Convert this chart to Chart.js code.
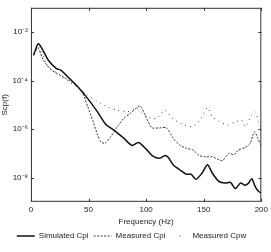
<!DOCTYPE html>
<html lang="en">
<head>
  <meta charset="UTF-8">
  <title>Scp(f)</title>
  <script src="https://cdn.jsdelivr.net/npm/chart.js"></script>
  <style>
    html, body { margin: 0; padding: 0; background: #fff; }
    #wrap { width: 271px; height: 252px; }
  </style>
</head>
<body>
  <div id="wrap"><canvas id="psdChart"></canvas></div>
  <script>
    // Frequências (Hz) e valores
    const simFreq = [2.3, 6.6, 15.1, 22.2, 25.9, 32.2, 40.7, 49.3, 57.8, 65, 72.1, 80.6, 87.8, 93.5, 100.6, 106.3, 112, 116.2, 119.1, 123.4, 129.1, 134.8, 139, 143.3, 148.4, 153.3, 157.5, 163.2, 168.9, 173.2, 177.5, 181.8, 186, 188.9, 191.7, 194.6, 197.4, 200];
    const simCpi = [1.1e-3, 3.3e-3, 6.9e-4, 3.1e-4, 2.7e-4, 1.4e-4, 5.5e-5, 1.8e-5, 5.1e-6, 1.55e-6, 9.1e-7, 4.2e-7, 2.1e-7, 2.8e-7, 1.38e-7, 7.4e-8, 6.3e-8, 8.1e-8, 6.8e-8, 3.4e-8, 2.1e-8, 1.38e-8, 1.38e-8, 8.5e-9, 1.5e-8, 3.4e-8, 1.5e-8, 6.9e-9, 5.9e-9, 6.3e-9, 3.5e-9, 5.9e-9, 4.8e-9, 5.9e-9, 8.9e-9, 4.3e-9, 2.7e-9, 2.3e-9];

    const cpiFreq = [2.3, 6.1, 10.8, 17.9, 26.5, 35, 40.7, 45, 49.3, 53.6, 57.8, 60.7, 64.4, 69.3, 75, 80.6, 86.3, 92, 94.9, 99.1, 104.8, 112, 117.7, 123.4, 129.1, 134.8, 140.5, 146.2, 151.9, 157.5, 163.2, 166.6, 171.8, 176.1, 180.3, 186, 190.3, 194, 196.9, 200];
    const measCpi = [1.29e-3, 2.2e-3, 6.9e-4, 2.7e-4, 1.55e-4, 8.9e-5, 5.5e-5, 3.0e-5, 8.3e-6, 2.3e-6, 5.8e-7, 3.0e-7, 2.6e-7, 4.9e-7, 1.26e-6, 2.75e-6, 4.5e-6, 7.8e-6, 8.9e-6, 3.8e-6, 1.15e-6, 1.12e-6, 1.12e-6, 4.2e-7, 2.2e-7, 1.62e-7, 1.38e-7, 8.1e-8, 7.1e-8, 7.2e-8, 5.4e-8, 5.1e-8, 1.0e-7, 8.7e-8, 1.38e-7, 1.74e-7, 2.6e-7, 7.8e-7, 4.2e-7, 1.9e-7];

    const cpwFreq = [2.3, 6.6, 15.1, 23.6, 32.2, 40.7, 49.3, 57.8, 66.4, 74.9, 83.5, 92, 100.6, 109.1, 116.2, 123.4, 131.9, 140.5, 147.6, 153.3, 157.5, 163.2, 170.4, 177.5, 183.2, 186, 191.7, 194.6, 197.4, 200];
    const measCpw = [1.1e-3, 2.4e-3, 3.6e-4, 1.95e-4, 9.3e-5, 5.1e-5, 2.5e-5, 1.35e-5, 8.3e-6, 6.0e-6, 5.1e-6, 7.1e-6, 3.2e-6, 2.75e-6, 6.0e-6, 2.6e-6, 1.55e-6, 1.26e-6, 2.75e-6, 7.6e-6, 3.2e-6, 2.1e-6, 1.48e-6, 1.95e-6, 2.3e-6, 1.26e-6, 3.8e-6, 5.1e-6, 2.1e-6, 1.12e-6];

    const yTicks = [1e-8, 1e-6, 1e-4, 1e-2];
    const yTickLabels = ['10⁻⁸', '10⁻⁶', '10⁻⁴', '10⁻²'];
    const xTicks = [0, 50, 100, 150, 200];

    // traço usado na legenda (a última série aparece como um único ponto)
    const legendDash = [[], [2, 1.5], [1, 40]];
    const legendDashOffset = [0, 0, -9];

    const pontos = (xs, ys) => xs.map((x, i) => ({ x: x, y: ys[i] }));

    // Caixa com marcas internas, estilo MATLAB
    const caixaPlugin = {
      id: 'caixa',
      afterDraw(chart) {
        const { ctx, chartArea: a, scales } = chart;
        ctx.save();
        ctx.strokeStyle = '#333';
        ctx.lineWidth = 1;
        ctx.strokeRect(a.left + 0.5, a.top + 0.5, a.right - a.left - 1, a.bottom - a.top - 1);
        ctx.beginPath();
        xTicks.forEach(v => {
          const px = Math.round(scales.x.getPixelForValue(v)) + 0.5;
          ctx.moveTo(px, a.bottom); ctx.lineTo(px, a.bottom - 3);
          ctx.moveTo(px, a.top); ctx.lineTo(px, a.top + 3);
        });
        yTicks.forEach(v => {
          const py = Math.round(scales.y.getPixelForValue(v)) + 0.5;
          ctx.moveTo(a.left, py); ctx.lineTo(a.left + 3, py);
          ctx.moveTo(a.right, py); ctx.lineTo(a.right - 3, py);
        });
        ctx.stroke();
        ctx.restore();
      }
    };

    const fonte = { family: "'Liberation Sans', Arial, sans-serif", size: 8 };

    new Chart(document.getElementById('psdChart'), {
      type: 'line',
      data: {
        datasets: [
          {
            label: 'Simulated Cpi',
            data: pontos(simFreq, simCpi),
            borderColor: '#111',
            borderWidth: 1.5,
            pointRadius: 0,
            tension: 0.25,
            fill: false
          },
          {
            label: 'Measured Cpi',
            data: pontos(cpiFreq, measCpi),
            borderColor: '#333',
            borderWidth: 1,
            borderDash: [2, 1.5],
            pointRadius: 0,
            tension: 0.25,
            fill: false
          },
          {
            label: 'Measured Cpw',
            data: pontos(cpwFreq, measCpw),
            borderColor: '#444',
            borderWidth: 1,
            borderDash: [1, 4],
            pointRadius: 0,
            tension: 0.25,
            fill: false
          }
        ]
      },
      options: {
        responsive: true,
        maintainAspectRatio: false,
        animation: false,
        layout: { padding: { left: 0, right: 8, top: 6, bottom: 2 } },
        scales: {
          x: {
            type: 'linear',
            min: 0,
            max: 200,
            afterBuildTicks: axis => { axis.ticks = xTicks.map(v => ({ value: v })); },
            grid: { display: false, drawTicks: false },
            border: { display: false },
            ticks: { color: '#222', font: fonte, padding: 3, maxRotation: 0 },
            title: { display: true, text: 'Frequency (Hz)', color: '#222', font: fonte, padding: { top: 0, bottom: 0 } }
          },
          y: {
            type: 'logarithmic',
            min: 1e-9,
            max: 1e-1,
            afterBuildTicks: axis => { axis.ticks = yTicks.map(v => ({ value: v })); },
            grid: { display: false, drawTicks: false },
            border: { display: false },
            ticks: {
              color: '#222',
              font: fonte,
              padding: 3,
              callback: value => yTickLabels[yTicks.findIndex(t => Math.abs(Math.log10(t) - Math.log10(value)) < 0.01)]
            },
            title: { display: true, text: 'Scp(f)', color: '#222', font: fonte, padding: { top: 0, bottom: 0 } }
          }
        },
        plugins: {
          legend: {
            position: 'bottom',
            labels: {
              color: '#222',
              font: { family: fonte.family, size: 8 },
              usePointStyle: true,
              pointStyle: 'line',
              pointStyleWidth: 18,
              boxHeight: 6,
              padding: 5,
              generateLabels: chart => chart.data.datasets.map((ds, i) => ({
                text: ds.label,
                datasetIndex: i,
                fillStyle: ds.borderColor,
                strokeStyle: ds.borderColor,
                fontColor: '#222',
                lineWidth: ds.borderWidth,
                lineDash: legendDash[i],
                lineDashOffset: legendDashOffset[i],
                pointStyle: 'line',
                hidden: false
              }))
            }
          },
          tooltip: { enabled: false }
        }
      },
      plugins: [caixaPlugin]
    });
  </script>
</body>
</html>
